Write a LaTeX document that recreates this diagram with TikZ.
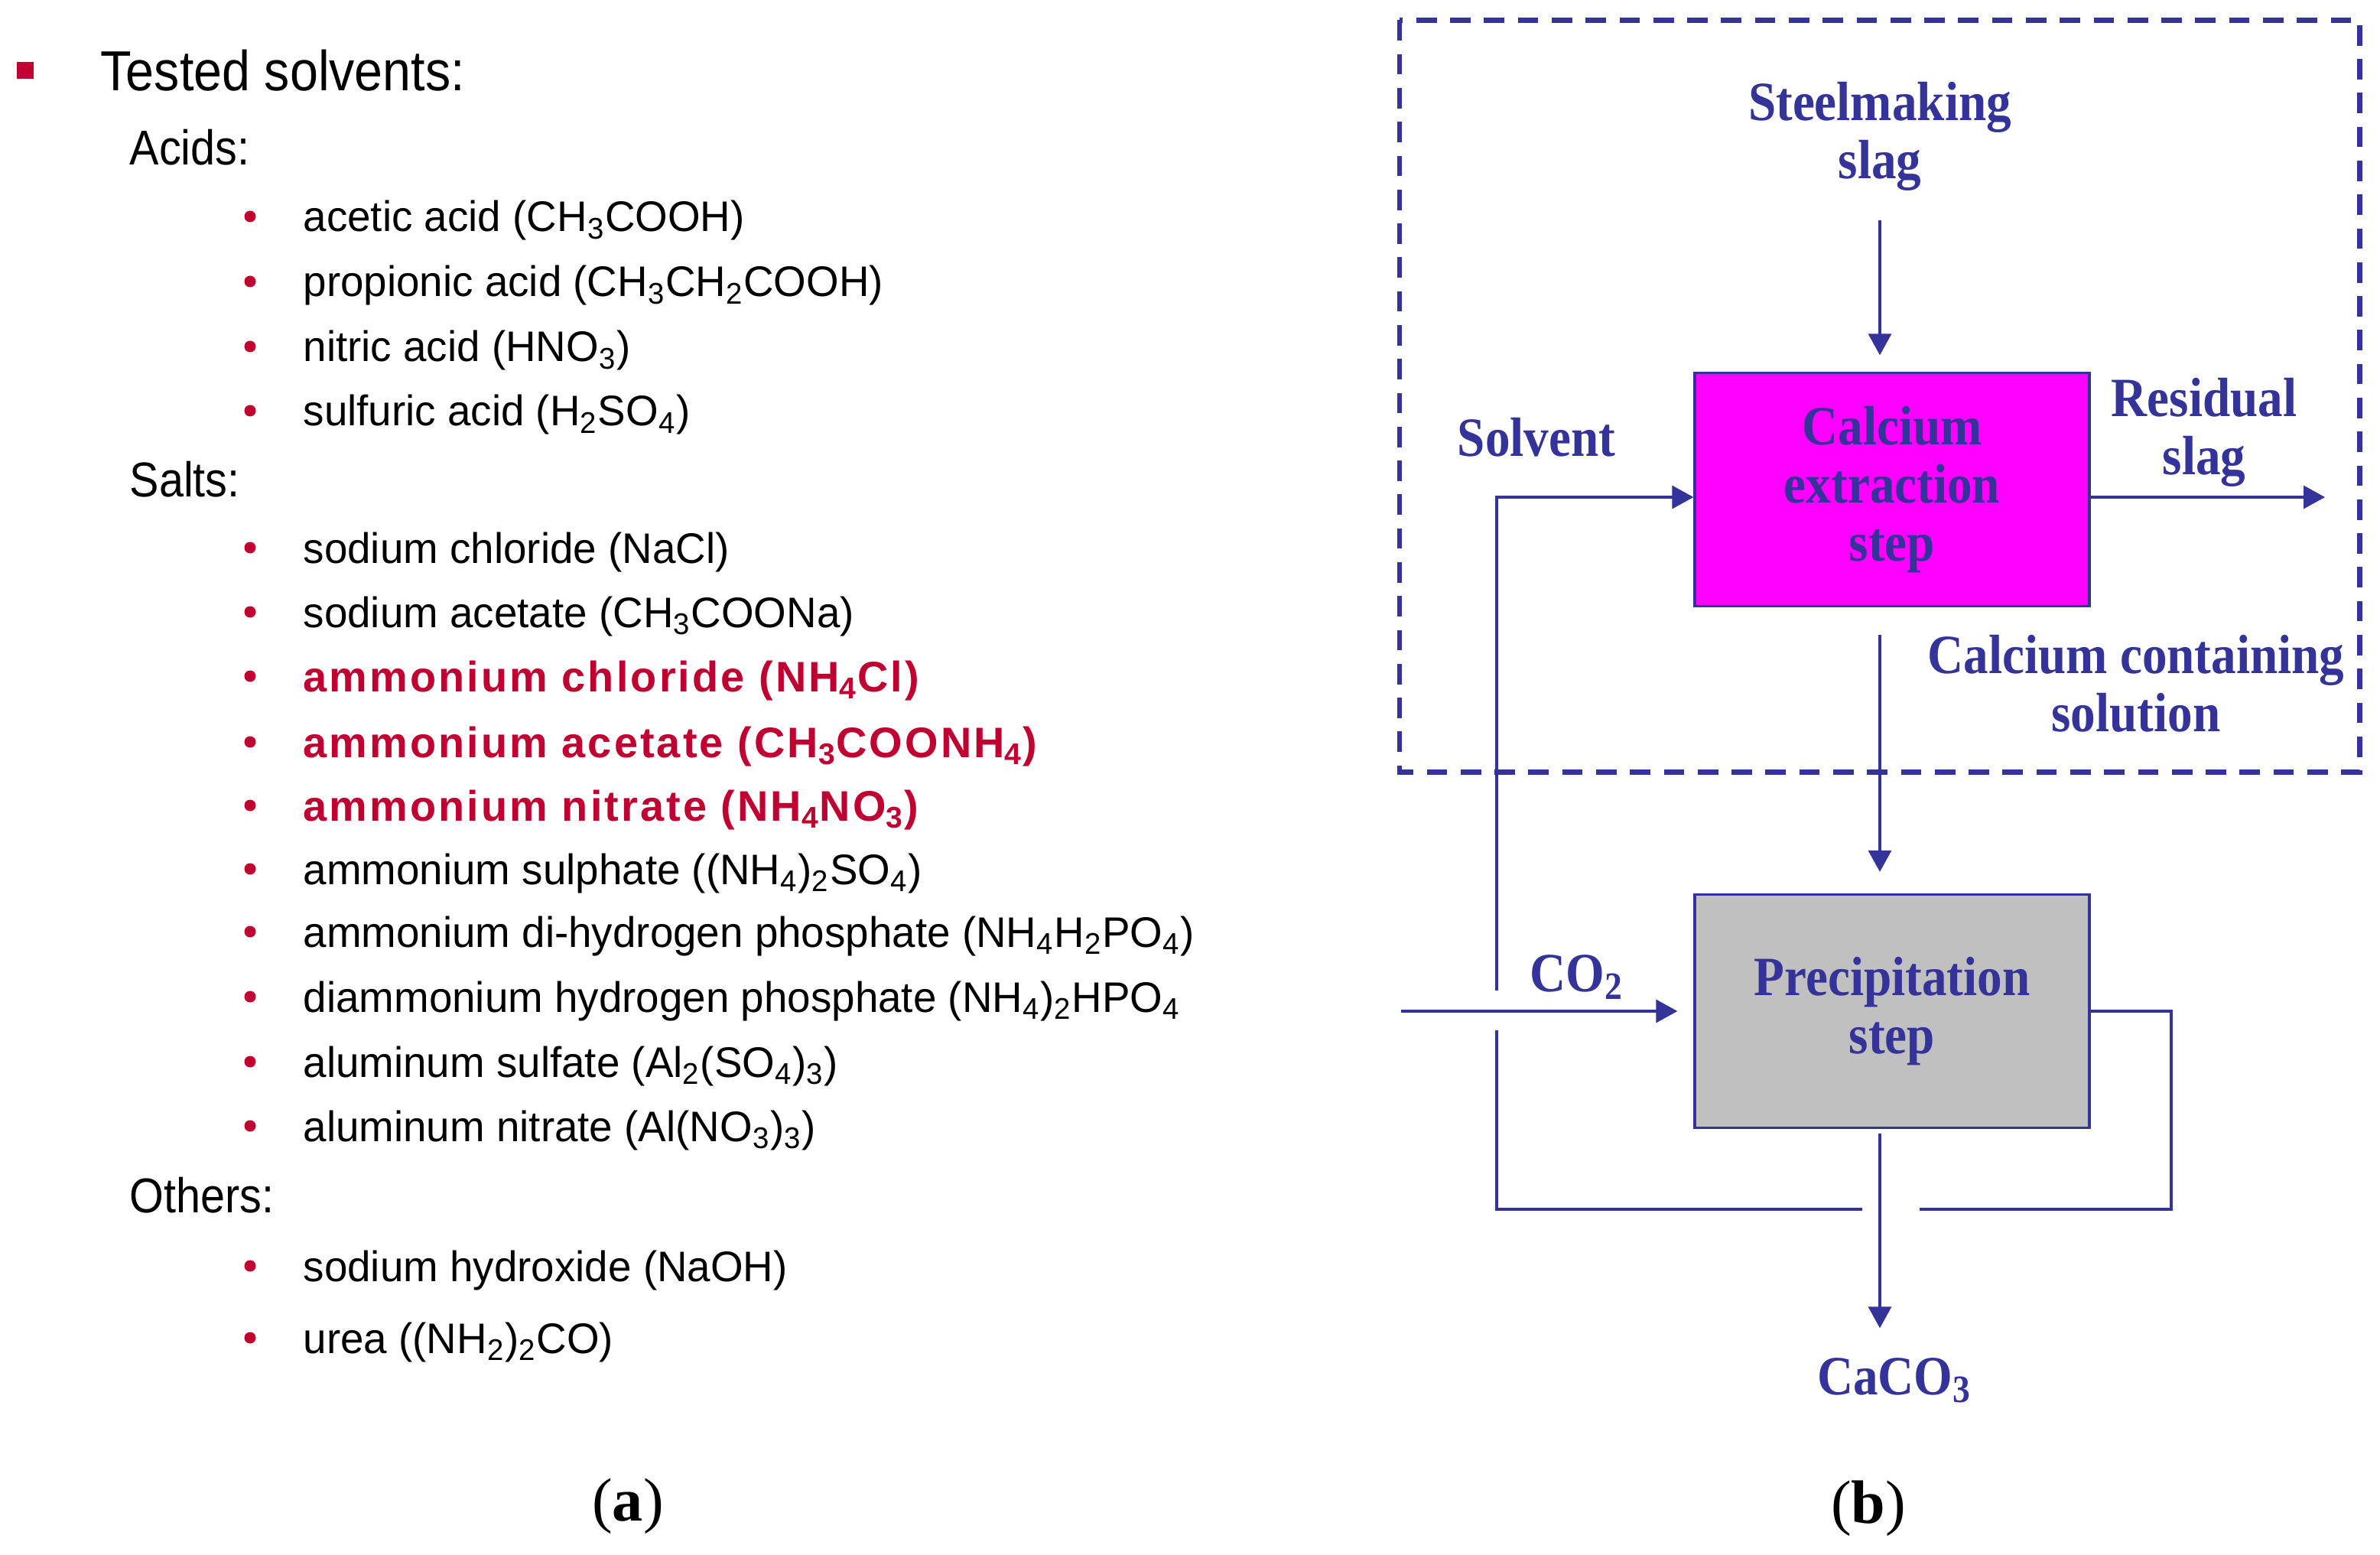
\documentclass[tikz,border=0pt]{standalone}
\usepackage{fontspec}
\setmainfont{Liberation Sans}
\newfontfamily\headfont[FakeStretch=0.9]{Liberation Sans}
\newfontfamily\flowfont[FakeStretch=0.9]{Liberation Serif}
\newfontfamily\capfont{Liberation Serif}
\usetikzlibrary{arrows.meta}
\definecolor{solvred}{RGB}{192,0,48}
\definecolor{flowblue}{RGB}{51,51,153}
\definecolor{extmag}{RGB}{255,0,255}
\definecolor{pregrey}{RGB}{192,192,192}
\newcommand{\dn}[1]{\textsubscript{#1}}
\tikzset{
    % Solvent list
    headtext/.style={
        anchor=base west,
        inner sep=0pt,
        font=\headfont\fontsize{21}{25}\selectfont,
    },
    grouptext/.style={
        anchor=base west,
        inner sep=0pt,
        font=\headfont\fontsize{18.2}{22}\selectfont,
    },
    entry/.style={
        anchor=base west,
        inner sep=0pt,
        font=\fontsize{15.9}{19}\selectfont\addfontfeature{FakeStretch=0.98},
    },
    % Selected solvents
    pick/.style={
        entry,
        text=solvred,
        font=\fontsize{15.9}{19}\selectfont\bfseries\addfontfeature{LetterSpace=5.5},
    },
    reddot/.style={
        circle,
        fill=solvred,
        minimum size=1.5mm,
        inner sep=0pt,
    },
    redsq/.style={
        rectangle,
        fill=solvred,
        minimum size=2.2mm,
        inner sep=0pt,
    },
    % Process scheme
    flowtext/.style={
        text=flowblue,
        align=center,
        inner sep=0pt,
        font=\flowfont\bfseries\fontsize{20.6}{21.6}\selectfont,
    },
    stepbox/.style={
        flowtext,
        draw=flowblue,
        line width=0.95pt,
        minimum width=5.16cm,
        minimum height=3.05cm,
    },
    flow/.style={
        draw=flowblue,
        line width=0.95pt,
        -{Triangle[length=2.8mm,width=3mm]},
    },
    pipe/.style={
        draw=flowblue,
        line width=0.95pt,
    },
    frame/.style={
        draw=flowblue,
        line width=1.9pt,
        dash pattern=on 7.6pt off 5pt,
    },
    captext/.style={
        anchor=base,
        inner sep=0pt,
        font=\capfont\fontsize{22.8}{27}\selectfont,
    },
}

\begin{document}
\begin{tikzpicture}
    \useasboundingbox (0,0) rectangle (31.12,-20.33);
%LIST_BEGIN%
    \node[redsq] (sq) at (0.33,-0.92) {};
    \node[headtext] (tested) at (1.31,-1.19) {Tested solvents:};

    \begin{scope}[yshift=-2.16cm]
        \node[grouptext] (acids) at (1.69,0) {Acids:};
        \node[reddot] (b1) at (3.27,-0.67) {};
        \node[entry] (acetic) at (3.96,-0.87) {acetic acid (CH\dn{3}COOH)};
        \node[reddot] (b2) at (3.27,-1.52) {};
        \node[entry] (propionic) at (3.96,-1.72) {propionic acid (CH\dn{3}CH\dn{2}COOH)};
        \node[reddot] (b3) at (3.27,-2.37) {};
        \node[entry] (nitric) at (3.96,-2.57) {nitric acid (HNO\dn{3})};
        \node[reddot] (b4) at (3.27,-3.21) {};
        \node[entry] (sulfuric) at (3.96,-3.41) {sulfuric acid (H\dn{2}SO\dn{4})};
    \end{scope}

    \begin{scope}[yshift=-6.50cm]
        \node[grouptext] (salts) at (1.69,0) {Salts:};
        \node[reddot] (b5) at (3.27,-0.66) {};
        \node[entry] (nacl) at (3.96,-0.86) {sodium chloride (NaCl)};
        \node[reddot] (b6) at (3.27,-1.50) {};
        \node[entry] (naac) at (3.96,-1.70) {sodium acetate (CH\dn{3}COONa)};
        \node[reddot] (b7) at (3.27,-2.34) {};
        \node[pick] (nhcl) at (3.96,-2.54) {ammonium chloride (NH\dn{4}Cl)};
        \node[reddot] (b8) at (3.27,-3.20) {};
        \node[pick] (nhac) at (3.96,-3.40) {ammonium acetate (CH\dn{3}COONH\dn{4})};
        \node[reddot] (b9) at (3.27,-4.03) {};
        \node[pick] (nhno) at (3.96,-4.23) {ammonium nitrate (NH\dn{4}NO\dn{3})};
        \node[reddot] (b10) at (3.27,-4.86) {};
        \node[entry] (nhso) at (3.96,-5.06) {ammonium sulphate ((NH\dn{4})\dn{2}SO\dn{4})};
        \node[reddot] (b11) at (3.27,-5.68) {};
        \node[entry] (nhhpo) at (3.96,-5.88) {ammonium di-hydrogen phosphate (NH\dn{4}H\dn{2}PO\dn{4})};
        \node[reddot] (b12) at (3.27,-6.53) {};
        \node[entry] (dahp) at (3.96,-6.73) {diammonium hydrogen phosphate (NH\dn{4})\dn{2}HPO\dn{4}};
        \node[reddot] (b13) at (3.27,-7.38) {};
        \node[entry] (alsulf) at (3.96,-7.58) {aluminum sulfate (Al\dn{2}(SO\dn{4})\dn{3})};
        \node[reddot] (b14) at (3.27,-8.22) {};
        \node[entry] (alnitr) at (3.96,-8.42) {aluminum nitrate (Al(NO\dn{3})\dn{3})};
    \end{scope}

    \begin{scope}[yshift=-15.85cm]
        \node[grouptext] (others) at (1.69,0) {Others:};
        \node[reddot] (b15) at (3.27,-0.70) {};
        \node[entry] (naoh) at (3.96,-0.90) {sodium hydroxide (NaOH)};
        \node[reddot] (b16) at (3.27,-1.64) {};
        \node[entry] (urea) at (3.96,-1.84) {urea ((NH\dn{2})\dn{2}CO)};
    \end{scope}

    \node[captext] (capa) at (8.21,-19.88) {(\textbf{a})};
%LIST_END%

%SCHEME_BEGIN%
    \draw[frame] (18.30,-0.265) rectangle (30.855,-10.095);
    \node[flowtext] (steel) at (24.58,-1.78) {Steelmaking\\slag};
    \node[stepbox,fill=extmag] (ext) at (24.74,-6.40) {Calcium\\extraction\\step};
    \node[stepbox,fill=pregrey] (pre) at (24.74,-13.22) {Precipitation\\step};
    \node[flowtext] (resid) at (28.82,-5.655) {Residual\\slag};
    \node[flowtext] (casol) at (27.93,-8.935) {Calcium containing\\solution};
    \node[flowtext,anchor=base] (solv) at (20.09,-5.97) {Solvent};
    \node[flowtext,anchor=base] (co2) at (20.62,-12.96) {CO\dn{2}};
    \node[flowtext,anchor=base] (caco) at (24.77,-18.23) {CaCO\dn{3}};
    \node[captext] (capb) at (24.43,-19.91) {(\textbf{b})};

    \coordinate (axis) at (24.58,0);
    \coordinate (inlet) at (19.57,-6.50);
    \coordinate (outlet) at (30.40,-6.50);
    \coordinate (gas) at (18.32,-13.22);
    \coordinate (loopSW) at (19.57,-15.81);
    \coordinate (loopSE) at (28.39,-15.81);

    % Main line
    \draw[flow,shorten <=0.38cm,shorten >=0.215cm] (steel.south) -- (steel.south |- ext.north);
    \draw[flow] (ext.east |- outlet) -- (outlet);
    \draw[flow,shorten <=0.36cm,shorten >=0.28cm] (ext.south -| axis) -- (pre.north -| axis);
    \draw[flow,shorten >=0.21cm] (gas) -- (gas -| pre.west);
    \draw[flow,shorten <=0.06cm,shorten >=0.38cm] (pre.south -| axis) -- (caco.north -| axis);
    % Solvent recycle
    \draw[pipe] (pre.east) -- (pre.east -| loopSE) -- (loopSE) -- (25.10,-15.81);
    \draw[pipe] (24.35,-15.81) -- (loopSW) -- (19.57,-13.465);
    \draw[flow] (19.57,-12.95) -- (inlet) -- (inlet -| ext.west);
%SCHEME_END%
\end{tikzpicture}
\end{document}
